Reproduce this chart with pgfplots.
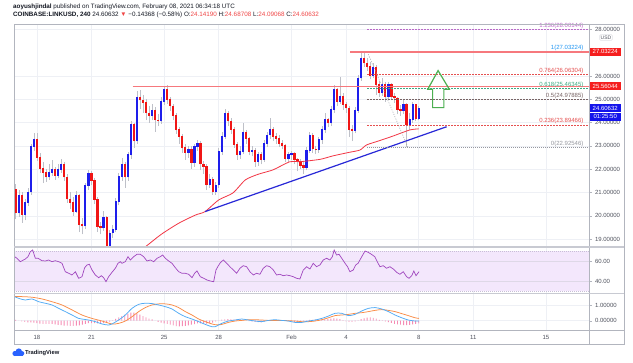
\documentclass[border=0pt]{standalone}
\usepackage{fontspec}
\setmainfont{Liberation Sans}
\usepackage{pgfplots}
\pgfplotsset{compat=1.18}
\usepackage{pgfplotstable}

\definecolor{upc}{RGB}{30,30,235}
\definecolor{dnc}{RGB}{240,22,22}
\definecolor{wickc}{RGB}{190,192,200}
\definecolor{gridc}{RGB}{238,240,245}
\definecolor{mac}{RGB}{242,54,69}
\definecolor{trendc}{RGB}{40,40,215}
\definecolor{resc}{RGB}{246,120,125}
\definecolor{rsic}{RGB}{160,70,190}
\definecolor{bandc}{RGB}{243,231,252}
\definecolor{bandedge}{RGB}{200,190,215}
\definecolor{macdc}{RGB}{80,170,245}
\definecolor{sigc}{RGB}{250,140,70}
\definecolor{histc}{RGB}{245,140,180}
\definecolor{framec}{RGB}{178,181,190}
\definecolor{sepc}{RGB}{200,202,210}
\definecolor{txtc}{RGB}{80,83,94}
\definecolor{darkc}{RGB}{19,23,34}
\definecolor{redt}{RGB}{240,70,70}
\definecolor{arrowc}{RGB}{76,175,80}
\definecolor{fibp}{RGB}{186,104,200}
\definecolor{fibb}{RGB}{33,150,243}
\definecolor{fibr}{RGB}{229,80,80}
\definecolor{fibg}{RGB}{60,170,130}
\definecolor{fibn}{RGB}{120,100,100}
\definecolor{fibz}{RGB}{150,152,160}
\definecolor{boxred}{RGB}{245,30,30}
\definecolor{boxblue}{RGB}{20,20,235}
\definecolor{tvblue}{RGB}{41,98,255}

\pgfplotstableread{
u o h l c
1 20.10 21.10 19.95 20.85
3 20.05 20.70 19.80 20.55
4 20.55 21.20 20.40 21.00
5 21.00 23.10 20.90 22.97
6 22.97 23.55 22.80 23.28
11 21.65 22.20 21.55 21.85
12 21.85 22.40 21.70 21.97
14 21.72 22.20 21.60 21.97
15 21.97 22.45 21.85 22.18
20 20.18 21.05 20.10 20.85
23 19.55 21.40 19.45 21.28
24 21.28 21.95 21.10 21.79
29 19.46 20.20 19.35 19.90
31 18.70 19.40 18.55 19.25
32 19.25 19.60 19.05 19.40
33 19.40 20.75 19.30 20.60
34 20.60 21.85 20.45 21.68
35 21.68 22.50 21.50 22.18
37 21.65 22.75 21.50 22.60
38 22.60 24.05 22.45 23.90
40 23.20 25.35 23.10 25.05
45 24.30 24.80 24.10 24.50
48 24.05 25.10 23.95 24.90
49 24.90 25.56 24.75 25.40
57 22.70 23.00 22.50 22.85
59 22.28 23.10 22.10 22.95
60 22.95 23.25 22.80 23.10
64 21.32 21.80 21.20 21.56
66 21.04 21.45 20.90 21.30
67 21.30 22.90 21.20 22.75
68 22.75 23.60 22.60 23.40
69 23.40 24.60 23.30 24.40
74 22.60 23.00 22.45 22.75
75 22.75 24.00 22.65 23.55
78 22.75 23.00 22.55 22.80
80 22.30 22.75 22.15 22.60
82 22.40 23.25 22.30 23.10
83 23.10 23.60 22.95 23.45
84 23.45 24.20 23.30 23.70
90 22.45 22.75 22.30 22.60
91 22.60 22.80 22.40 22.65
96 22.05 22.95 21.95 22.80
97 22.80 23.60 22.70 23.45
100 22.82 23.40 22.70 23.25
101 23.25 23.85 23.10 23.68
102 23.68 24.40 23.55 24.11
104 23.97 24.70 23.85 24.54
105 24.54 25.60 24.40 25.40
107 24.90 25.95 24.80 25.10
112 23.65 24.65 23.55 24.51
113 24.51 26.05 24.40 25.90
114 25.90 27.03 25.80 26.76
118 26.00 26.55 25.90 26.37
121 25.26 25.90 25.15 25.61
123 25.11 25.75 25.00 25.61
128 24.51 24.95 24.35 24.76
130 23.90 24.40 23.70 24.11
131 24.11 24.90 24.00 24.76
133 24.14 24.69 24.09 24.61
}\uptab

\pgfplotstableread{
u o h l c
0 21.10 21.35 19.85 20.10
2 20.85 21.00 19.70 20.05
7 23.28 23.55 22.35 22.50
8 22.50 22.70 21.85 22.00
9 22.00 22.30 21.40 21.85
10 21.85 22.00 21.45 21.65
13 21.97 22.10 21.55 21.72
16 22.18 22.30 21.50 21.65
17 21.65 21.80 20.55 20.70
18 20.70 21.00 20.30 20.55
19 20.55 20.80 20.00 20.18
21 20.85 20.95 19.30 19.60
22 19.60 19.90 19.20 19.55
25 21.79 21.90 21.30 21.50
26 21.50 21.60 20.50 20.68
27 20.68 20.80 19.30 19.53
28 19.53 19.75 19.20 19.46
30 19.90 20.00 18.40 18.70
36 22.18 22.30 21.20 21.65
39 23.90 24.00 22.90 23.20
41 25.05 25.40 24.60 24.95
42 24.95 25.20 24.40 24.85
43 24.85 25.00 24.10 24.40
44 24.40 24.70 24.00 24.30
46 24.50 24.65 23.60 24.10
47 24.10 24.35 23.85 24.05
50 25.40 25.60 24.80 24.97
51 24.97 25.10 24.50 24.70
52 24.70 24.80 24.10 24.30
53 24.30 24.40 23.50 23.68
54 23.68 23.80 23.10 23.40
55 23.40 23.50 22.70 22.90
56 22.90 23.10 22.40 22.70
58 22.85 23.00 22.00 22.28
61 23.10 23.20 21.95 22.20
62 22.20 22.35 21.80 22.10
63 22.10 22.20 21.10 21.32
65 21.56 21.65 20.90 21.04
70 24.40 24.50 23.85 24.05
71 24.05 24.20 23.50 23.70
72 23.70 23.80 22.90 23.05
73 23.05 23.15 22.40 22.60
76 23.55 23.70 23.10 23.30
77 23.30 23.40 22.60 22.75
79 22.80 22.90 22.10 22.30
81 22.60 22.75 22.20 22.40
85 23.70 23.80 23.20 23.40
86 23.40 23.55 23.10 23.30
87 23.30 23.45 22.95 23.10
88 23.10 23.25 22.85 23.00
89 23.00 23.10 22.30 22.45
92 22.65 22.75 22.20 22.40
93 22.40 22.50 21.90 22.30
94 22.30 22.45 22.00 22.15
95 22.15 22.30 21.80 22.05
98 23.45 23.55 22.70 22.85
99 22.85 23.00 22.65 22.82
103 24.11 24.20 23.80 23.97
106 25.40 25.50 24.70 24.90
108 25.10 25.25 24.55 24.76
109 24.76 24.90 24.40 24.61
110 24.61 24.70 23.40 23.68
111 23.68 23.90 23.20 23.65
115 26.76 27.00 26.40 26.54
116 26.54 26.75 26.20 26.40
117 26.40 26.60 25.85 26.00
119 26.37 26.45 25.20 25.61
120 25.61 25.80 25.10 25.26
122 25.61 25.75 24.90 25.11
124 25.61 25.70 24.95 25.11
125 25.11 25.25 24.85 25.04
126 25.04 25.10 24.35 24.54
127 24.54 24.75 24.30 24.51
129 24.76 24.85 22.93 23.90
132 24.76 24.80 24.05 24.14
}\dntab

\pgfplotsset{
  tvbase/.style={
    scale only axis, anchor=south west, width=575pt,
    xmin=-0.56, xmax=189.2,
    axis line style={draw=none},
    xtick={7,25,49,67,91,109,133,151,175},
    xtick style={draw=none},
    ytick pos=right, yticklabel pos=right,
    tick align=outside, major tick length=2.5pt,
    ytick style={framec, line width=0.4pt},
    grid=major, major grid style={gridc, line width=0.5pt},
    /pgf/number format/assume math mode=true,
    yticklabel style={font=\fontsize{6}{7}\selectfont, text=txtc},
    clip mode=individual,
  },
}
\tikzset{lvl/.style={font=\fontsize{6}{7}\selectfont, anchor=south east, inner sep=0.6pt},
  pbox/.style={text=white, font=\fontsize{6}{7}\selectfont, inner sep=0pt, minimum width=32pt, minimum height=8pt}}

\begin{document}
\begin{tikzpicture}
\path[fill=white] (0pt,0pt) rectangle (633pt,363pt);

% ---------------- main price pane ----------------
\begin{axis}[tvbase, at={(14pt,116pt)}, height=223pt,
  ymin=18.66, ymax=28.23, ytick={19,20,21,22,23,24,25,26,28}, xticklabels={},
  yticklabel style={/pgf/number format/fixed, /pgf/number format/fixed zerofill, /pgf/number format/precision=5}]
% wicks
\addplot[draw=none, mark=none, forget plot, error bars/.cd, y dir=plus, y explicit, error mark=none,
  error bar style={draw=wickc, line width=0.45pt}] table[x=u, y=l, y error plus expr=\thisrow{h}-\thisrow{l}] {\uptab};
\addplot[draw=none, mark=none, forget plot, error bars/.cd, y dir=plus, y explicit, error mark=none,
  error bar style={draw=wickc, line width=0.45pt}] table[x=u, y=l, y error plus expr=\thisrow{h}-\thisrow{l}] {\dntab};
% bodies
\addplot[draw=none, mark=none, forget plot, error bars/.cd, y dir=plus, y explicit, error mark=none,
  error bar style={draw=upc, line width=2.2pt}] table[x=u, y=o, y error plus expr=\thisrow{c}-\thisrow{o}+0.03] {\uptab};
\addplot[draw=none, mark=none, forget plot, error bars/.cd, y dir=plus, y explicit, error mark=none,
  error bar style={draw=dnc, line width=2.2pt}] table[x=u, y=c, y error plus expr=\thisrow{o}-\thisrow{c}+0.03] {\dntab};
% moving average
\addplot[mac, line width=0.8pt, smooth, tension=0.4] coordinates {
(40,18.45) (42.7,18.66) (48,19.20) (53.8,19.68) (59.3,20.03) (62.5,20.18) (67,20.68) (71.7,20.98)
(75.8,21.54) (80,21.78) (84.9,21.97) (90.5,22.32) (93.8,22.32) (100.4,22.42) (104.7,22.57)
(110,22.72) (113.6,22.82) (115.8,23.04) (120,23.22) (124.5,23.42) (130,23.68) (133,23.73)};
% trend line
\addplot[trendc, line width=1.2pt] coordinates {(62.5,20.18) (142.2,23.82)};
% fib levels
\draw[fibp, line width=0.5pt, dash pattern=on 1.5pt off 1.5pt] (axis cs:116,28.00144) -- (axis cs:189.2,28.00144);
\draw[fibr, line width=0.5pt, dash pattern=on 1.5pt off 1.5pt] (axis cs:116,26.06304) -- (axis cs:189.2,26.06304);
\draw[fibg, line width=0.5pt, dash pattern=on 1.5pt off 1.5pt] (axis cs:116,25.46345) -- (axis cs:189.2,25.46345);
\draw[fibn, line width=0.5pt, dash pattern=on 1.5pt off 1.5pt] (axis cs:116,24.97885) -- (axis cs:189.2,24.97885);
\draw[fibr, line width=0.5pt, dash pattern=on 1.5pt off 1.5pt] (axis cs:116,23.89466) -- (axis cs:189.2,23.89466);
\draw[fibz, line width=0.6pt, dash pattern=on 1pt off 1pt] (axis cs:116,22.92546) -- (axis cs:189.2,22.92546);
\draw[fibz, line width=0.5pt, dash pattern=on 1pt off 1.5pt] (axis cs:116,27.03224) -- (axis cs:129.5,22.92546);
% resistance lines
\draw[resc, line width=1.3pt] (axis cs:110.4,27.03224) -- (axis cs:189.2,27.03224);
\draw[resc, line width=1.3pt] (axis cs:38.6,25.56044) -- (axis cs:189.2,25.56044);
% level labels
\node[lvl, text=fibp] at (axis cs:187.6,28.00144) {1.236(28.00144)};
\node[lvl, text=fibb] at (axis cs:187.6,27.03224) {1(27.03224)};
\node[lvl, text=fibr] at (axis cs:187.6,26.06304) {0.764(26.06304)};
\node[lvl, text=fibg] at (axis cs:187.6,25.46345) {0.618(25.46345)};
\node[lvl, text=fibn] at (axis cs:187.6,24.97885) {0.5(24.97885)};
\node[lvl, text=fibr] at (axis cs:187.6,23.89466) {0.236(23.89466)};
\node[lvl, text=fibz] at (axis cs:187.6,22.92546) {0(22.92546)};
% green arrow
\draw[arrowc, line width=1.2pt, line join=miter] (axis cs:137.6,24.64) -- (axis cs:137.6,25.43) -- (axis cs:136.0,25.43)
  -- (axis cs:139.4,26.23) -- (axis cs:143.1,25.43) -- (axis cs:141.3,25.43) -- (axis cs:141.3,24.64) -- cycle;
% price scale boxes
\node[pbox, fill=boxred, anchor=west] at (axis cs:189.2,27.03224) {27.03224};
\node[pbox, fill=boxred, anchor=west] at (axis cs:189.2,25.56044) {25.56044};
\node[pbox, fill=boxblue, anchor=west] (cp) at (axis cs:189.2,24.60632) {24.60632};
\node[pbox, fill=boxblue, anchor=north west] at (cp.south west) {01:25:50};
\end{axis}

% ---------------- RSI pane ----------------
\begin{axis}[tvbase, at={(14pt,70pt)}, height=46pt,
  ymin=28, ymax=74, ytick={40,60}, xticklabels={},
  yticklabel style={/pgf/number format/fixed, /pgf/number format/fixed zerofill, /pgf/number format/precision=2}]
\fill[bandc] (axis cs:-0.56,30) rectangle (axis cs:189.2,70);
\draw[bandedge, line width=0.5pt, dash pattern=on 1pt off 1pt] (axis cs:-0.56,70) -- (axis cs:189.2,70);
\draw[bandedge, line width=0.5pt, dash pattern=on 1pt off 1pt] (axis cs:-0.56,30) -- (axis cs:189.2,30);
\draw[bandedge!60!white, line width=0.4pt] (axis cs:-0.56,60) -- (axis cs:189.2,60);
\draw[bandedge!60!white, line width=0.4pt] (axis cs:-0.56,40) -- (axis cs:189.2,40);
\addplot[rsic, line width=0.7pt] coordinates {
(-1.2,61) (-0.34,64.3) (0.43,62.7) (1.53,59.3) (3.18,62) (4.06,64.3) (4.83,69.3) (5.6,71) (6.48,62.7) (7.36,62.7)
(8.68,60.3) (9.78,60) (10.88,61) (11.98,59.3) (13.08,60.3) (14.18,59.3) (15.28,57.7) (16.38,49.3) (17.48,47.7)
(18.58,46) (19.68,49.3) (20.78,42.7) (21.88,44.3) (22.76,53.3) (23.53,56) (24.3,56.7) (25.18,51) (26.28,46)
(27.38,43.3) (28.26,45.3) (29.03,43.3) (29.8,39.3) (30.68,44.3) (31.78,48.7) (32.88,52.7) (33.76,57.7)
(34.53,59.3) (35.08,57.7) (36.18,59.3) (37.06,64.3) (37.83,61) (38.93,64.3) (40.03,66.7) (41.13,66.7)
(42.23,64.3) (43.33,60) (44.43,61) (45.53,59.3) (46.63,62.7) (47.73,64.3) (48.5,66) (49.38,62.7) (50.48,60)
(51.58,57.7) (52.68,53.3) (53.78,49.3) (54.88,47.7) (55.98,47.7) (57.08,46.7) (58.18,43.3) (59.06,47.7)
(59.83,50) (60.93,44.3) (62.03,42.7) (63.13,41) (64.23,40) (65.33,39.3) (66.1,51) (66.7,54.3) (67.4,57.7)
(68.5,61) (69.6,57.7) (70.7,54.3) (71.8,51) (72.9,47.7) (74.0,52.7) (75.1,55.3) (76.2,54.3) (77.3,49.3)
(78.4,46) (79.5,47.7) (80.6,46.7) (81.7,52.7) (82.8,55.3) (83.9,54.3) (85.0,51) (86.1,46) (87.2,46.7)
(88.3,45.3) (89.4,46) (90.5,45.3) (91.6,44.3) (92.7,42.7) (93.8,42) (94.9,51) (96.0,54.3) (97.1,52)
(98.2,57.7) (99.3,54.3) (100.4,56) (101.5,61) (102.6,62.7) (103.7,61) (104.5,64.3) (105.1,71) (105.9,66)
(106.7,66.7) (107.6,62.7) (108.7,57.7) (109.5,54.3) (110.3,49.3) (111.4,51) (112.2,56) (113.0,57.7)
(114.2,64.3) (115.3,70) (116.3,68.7) (117.4,66.7) (118.5,64.3) (119.6,57.7) (120.2,54.3) (121.3,55.3)
(122.4,52.7) (123.5,54.3) (124.6,52) (125.7,48.7) (126.8,46.7) (127.9,49.3) (129.0,44.3) (129.8,42.7)
(130.7,45.3) (131.4,50) (132.1,45.3) (133.1,49.3)};
\end{axis}

% ---------------- MACD pane ----------------
\begin{axis}[tvbase, at={(14pt,33pt)}, height=36pt,
  ymin=-0.60, ymax=1.73, ytick={0,1},
  xticklabels={18,21,25,28,Feb,4,8,11,15},
  xticklabel pos=bottom,
  xticklabel style={font=\fontsize{6}{7}\selectfont, text=txtc, yshift=0.5pt},
  yticklabel style={/pgf/number format/fixed, /pgf/number format/fixed zerofill, /pgf/number format/precision=5}]
\addplot[ybar, bar width=0.9pt, fill=histc, draw=none] coordinates {
(0,0.05) (1,0.00) (2,-0.05) (3,-0.08) (4,-0.10) (5,-0.10) (6,-0.12) (7,-0.16) (8,-0.18) (9,-0.20)
(10,-0.20) (11,-0.21) (12,-0.21) (13,-0.24) (14,-0.27) (15,-0.29) (16,-0.31) (17,-0.32) (18,-0.33) (19,-0.33)
(20,-0.32) (21,-0.30) (22,-0.26) (23,-0.20) (24,-0.15) (25,-0.15) (26,-0.16) (27,-0.17) (28,-0.19) (29,-0.16)
(30,-0.13) (31,-0.06) (32,0.02) (33,0.12) (34,0.21) (35,0.30) (36,0.39) (37,0.46) (38,0.53) (39,0.52)
(40,0.47) (41,0.40) (42,0.30) (43,0.22) (44,0.14) (45,0.08) (46,0.01) (47,-0.07) (48,-0.12) (49,-0.17)
(50,-0.21) (51,-0.25) (52,-0.30) (53,-0.35) (54,-0.37) (55,-0.35) (56,-0.33) (57,-0.30) (58,-0.26) (59,-0.22)
(60,-0.17) (61,-0.17) (62,-0.18) (63,-0.18) (64,-0.17) (65,-0.12) (66,-0.05) (67,0.03) (68,0.07) (69,0.09)
(70,0.10) (71,0.08) (72,0.07) (73,0.08) (74,0.09) (75,0.06) (76,0.00) (77,-0.03) (78,-0.06) (79,-0.08)
(80,-0.09) (81,-0.10) (82,-0.06) (83,-0.01) (84,0.03) (85,0.04) (86,0.04) (87,0.02) (88,0.00) (89,-0.01)
(90,-0.02) (91,-0.05) (92,-0.08) (93,-0.08) (94,-0.05) (95,-0.02) (96,0.02) (97,0.05) (98,0.06) (99,0.07)
(100,0.08) (101,0.09) (102,0.10) (103,0.11) (104,0.13) (105,0.15) (106,0.14) (107,0.11) (108,0.04) (109,-0.04)
(110,-0.08) (111,-0.08) (112,-0.05) (113,0.03) (114,0.11) (115,0.16) (116,0.20) (117,0.21) (118,0.18) (119,0.13)
(120,0.06) (121,0.02) (122,-0.04) (123,-0.09) (124,-0.14) (125,-0.20) (126,-0.23) (127,-0.26) (128,-0.28) (129,-0.29)
(130,-0.27) (131,-0.23) (132,-0.20) (133,-0.17)};
\addplot[sigc, line width=0.75pt, smooth, tension=0.5] coordinates {
(-1.2,1.56) (2.08,1.56) (5.38,1.52) (8.68,1.41) (11.98,1.23) (15.28,1.02) (18.58,0.70) (21.88,0.37) (25.18,0.15)
(28.48,-0.02) (31.78,-0.21) (33.98,-0.17) (36.18,-0.02) (38.38,0.26) (40.58,0.59) (42.78,0.85) (44.98,1.02)
(47.18,1.09) (49.38,1.09) (51.58,1.02) (53.78,0.85) (55.98,0.59) (58.18,0.37) (60.38,0.11) (62.58,-0.06)
(64.78,-0.21) (66.4,-0.27) (68.0,-0.24) (70.2,-0.11) (72.4,-0.02) (74.6,0.02) (76.8,0.065) (79.0,0.065)
(81.2,0.045) (83.4,0.02) (85.6,0.02) (87.8,0.02) (90.0,0.0) (92.2,-0.02) (94.4,-0.06) (96.6,-0.06) (98.8,-0.02)
(101.0,0.065) (103.2,0.19) (105.4,0.33) (107.6,0.37) (109.8,0.41) (112.0,0.48) (114.2,0.52) (116.4,0.59)
(118.6,0.67) (120.8,0.72) (123.0,0.67) (125.2,0.59) (127.4,0.46) (129.6,0.33) (131.8,0.19) (133.1,0.15)};
\addplot[macdc, line width=0.75pt, smooth, tension=0.5] coordinates {
(-1.2,1.625) (0.98,1.45) (3.18,1.34) (5.38,1.41) (7.58,1.23) (9.78,1.13) (11.98,1.02) (14.18,0.80) (16.38,0.59)
(18.58,0.37) (20.78,0.15) (21.88,0.11) (24.08,0.045) (26.28,-0.06) (28.48,-0.21) (30.68,-0.28) (31.78,-0.21)
(33.98,0.045) (36.18,0.37) (38.38,0.80) (40.58,1.06) (42.78,1.13) (44.98,1.11) (47.18,1.02) (49.38,0.91)
(51.58,0.76) (53.78,0.48) (55.98,0.26) (58.18,0.11) (60.38,-0.06) (62.58,-0.24) (64.78,-0.39) (65.8,-0.39)
(68.0,-0.17) (70.2,-0.02) (72.4,0.045) (74.6,0.11) (76.8,0.045) (79.0,-0.02) (81.2,-0.06) (83.4,0.02)
(85.6,0.065) (87.8,0.02) (90.0,-0.02) (92.2,-0.11) (94.4,-0.11) (96.6,-0.02) (98.8,0.045) (101.0,0.15)
(103.2,0.30) (105.4,0.48) (107.6,0.48) (109.8,0.33) (112.0,0.41) (114.2,0.63) (116.4,0.80) (118.6,0.85)
(120.8,0.76) (123.0,0.59) (125.2,0.37) (127.4,0.19) (129.6,0.045) (131.8,-0.02) (133.1,-0.02)};
\end{axis}

% ---------------- frame ----------------
\draw[framec, line width=0.7pt] (14pt,19pt) rectangle (624pt,339pt);
\draw[framec, line width=0.6pt] (589pt,19pt) -- (589pt,339pt);
\draw[sepc, line width=1.2pt] (14pt,116pt) -- (624pt,116pt);
\draw[sepc, line width=1.2pt] (14pt,69.5pt) -- (624pt,69.5pt);
\draw[framec, line width=0.6pt] (14pt,33pt) -- (624pt,33pt);
% USD box
\node[draw=sepc, fill=white, rounded corners=1pt, font=\fontsize{5}{6}\selectfont, text=txtc, inner sep=1pt] at (606pt,325.5pt) {USD};

% ---------------- header ----------------
\node[anchor=west, inner sep=0pt, font=\fontsize{6.3}{7}\selectfont, text=darkc] at (13pt,356.5pt)
  {\textbf{aoyushjindal} published on TradingView.com, February 08, 2021 06:34:18 UTC};
\node[anchor=west, inner sep=0pt, font=\fontsize{6.3}{7}\selectfont, text=darkc] at (13pt,348pt)
  {\textbf{COINBASE:LINKUSD, 240} 24.60632 \textcolor{redt}{▼} −0.14368 (−0.58\%) O:\textcolor{redt}{24.14190} H:\textcolor{redt}{24.68708} L:\textcolor{redt}{24.09068} C:\textcolor{redt}{24.60632}};

% ---------------- footer logo ----------------
\fill[tvblue] (15pt,9.5pt) circle (2.6pt);
\fill[tvblue] (18.8pt,11.4pt) circle (3.2pt);
\fill[tvblue] (22pt,9.6pt) circle (2.3pt);
\fill[tvblue] (14.5pt,7pt) rectangle (22.5pt,9.5pt);
\node[anchor=west, inner sep=0pt, font=\fontsize{5.8}{7}\selectfont\bfseries, text=darkc] at (25pt,10pt) {TradingView};
\end{tikzpicture}
\end{document}
